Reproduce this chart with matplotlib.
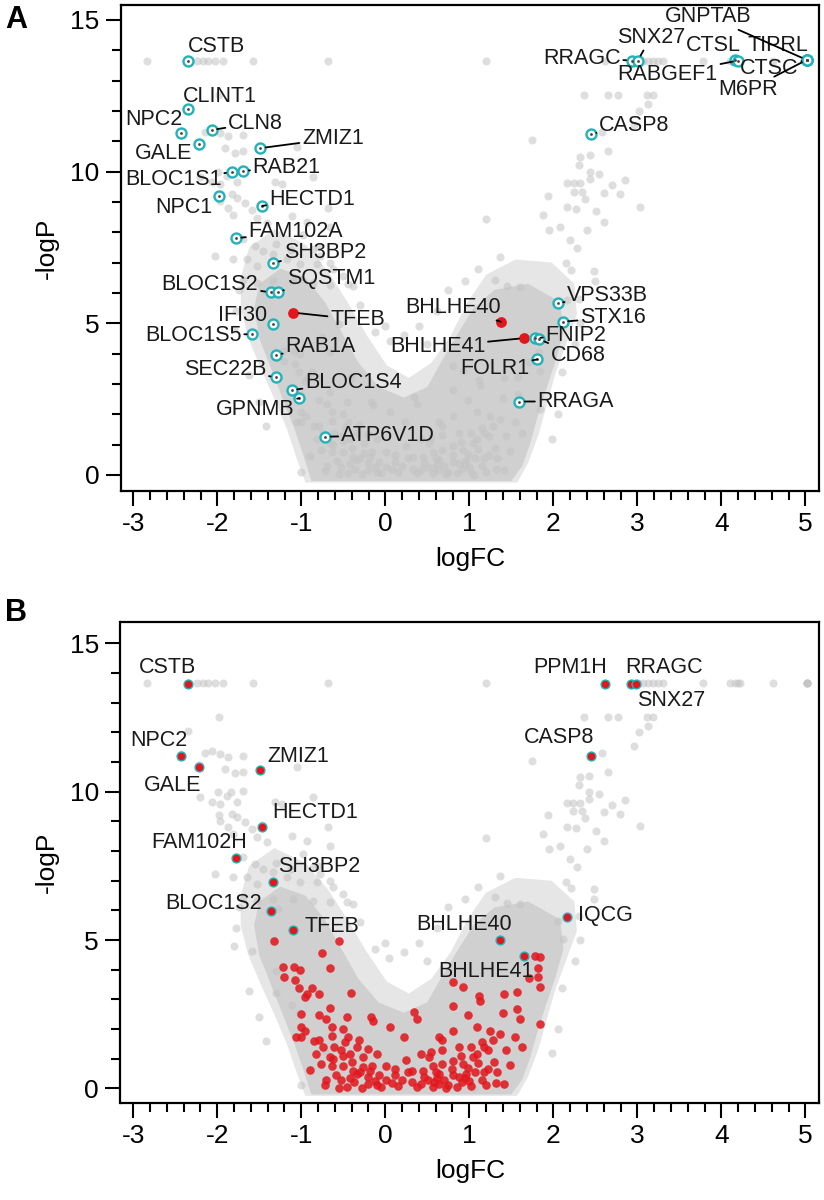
import matplotlib
matplotlib.use("Agg")
import matplotlib.pyplot as plt
from matplotlib.ticker import MultipleLocator

plt.rcParams['font.family'] = ['Liberation Sans', 'DejaVu Sans']

# ---------------- data ----------------
# outline of the light outer haze of the grey gene cloud (logFC / -logP)
halo_x = [-0.95, -1.05, -1.17, -1.32, -1.48, -1.63, -1.72, -1.72, -1.62, -1.32, -0.95, -0.68,
          -0.45, -0.22, 0.02, 0.28, 0.55, 0.78, 0.98, 1.20, 1.55, 1.98, 2.25, 2.28, 2.15,
          2.02, 1.92, 1.82, 1.70, 1.57]
halo_y = [-0.25, 0.50, 1.50, 2.50, 3.50, 4.50, 5.50, 6.50, 7.50, 8.10, 7.60, 6.70,
          5.70, 4.60, 3.60, 3.20, 3.70, 4.60, 5.70, 6.60, 7.10, 7.00, 6.30, 5.30, 4.30,
          3.30, 2.30, 1.30, 0.40, -0.25]
# outline of the solid grey core of the cloud
core_x = [-0.88, -0.97, -1.08, -1.22, -1.36, -1.50, -1.56, -1.50, -1.25, -0.95, -0.72, -0.52,
          -0.32, -0.08, 0.22, 0.50, 0.68, 0.85, 1.05, 1.30, 1.70, 2.08, 2.12, 2.02, 1.90,
          1.80, 1.72, 1.63, 1.50]
core_y = [-0.20, 0.60, 1.50, 2.50, 3.50, 4.50, 5.50, 6.30, 6.80, 6.50, 5.70, 4.70,
          3.70, 2.90, 2.55, 2.90, 3.80, 4.60, 5.50, 6.10, 6.30, 5.70, 4.70, 3.70, 2.70,
          1.80, 1.00, 0.30, -0.20]

# sparse grey genes (all genes not otherwise listed)
bg_x = [-2.84, -2.245, -2.166, -2.106, -2.027, -1.928, -1.571, -0.686, 1.199, 3.07, 3.13,
        3.19, 3.25, 3.31, 3.786, 4.10, 4.22, 4.61,
        -1.975, -2.146, -1.968, -1.868, -1.69, -1.055, -1.908, -1.789, -1.69, -1.987,
        -1.888, -1.769, -2.206, -2.067, -1.968, -1.829, -1.769, -1.67, -0.856, -1.313,
        -1.233, -1.968, -1.868, -1.809, -1.59, -1.531, -1.412, -1.114, -0.936, -0.658,
        -0.678, -2.027, -1.69, -1.551, -1.451, -1.333, -0.856, -0.777, -0.658, -1.809,
        -1.65, -1.531, -1.174, -1.015, -0.817, -0.618, -0.499, -0.38, -1.69, -1.531,
        -1.333, -1.095, -0.856, -0.658,
        2.36, 2.65, 2.77, 3.11, 3.19, 3.13, 3.02, 2.96, 1.75, 2.58, 2.65, 2.32, 2.43,
        2.30, 2.43, 2.54, 2.43, 2.85, 2.70, 2.16, 2.24, 2.32, 2.24, 2.34, 2.60, 2.79,
        1.94, 2.38, 2.16, 2.27, 3.03, 2.51, 1.20, 1.88, 1.95, 2.08, 2.40, 2.60, 2.20,
        2.28, 1.37, 2.15, 2.21, 2.48, 1.31, 1.45, 1.60, 2.49,
        -1.78, -1.80, -1.74, -1.62, -1.50, -1.42, -0.30, -0.12, 0.05, 0.22, 0.40, 0.62,
        0.95, 0.75, 2.30, 2.32, 2.26, 2.05, 1.98, -1.30, -1.12, -0.98, -0.80, -0.45,
        0.00, 0.50, 1.10, 2.10, -1.00, 1.05]
bg_y = [13.66, 13.66, 13.66, 13.66, 13.66, 13.66, 13.66, 13.66, 13.66, 13.66, 13.66,
        13.66, 13.66, 13.66, 13.66, 13.66, 13.66, 13.66,
        12.52, 11.32, 11.27, 11.18, 11.21, 10.82, 10.76, 10.62, 10.68, 9.98,
        9.86, 9.64, 9.81, 9.64, 9.58, 9.25, 9.14, 8.97, 9.81, 9.64,
        9.58, 9.02, 8.80, 8.57, 8.74, 8.46, 8.29, 8.52, 8.35, 8.18,
        8.80, 7.23, 7.79, 7.56, 7.39, 7.28, 7.45, 7.23, 7.00, 7.11,
        7.11, 6.89, 7.11, 6.95, 6.95, 6.78, 6.55, 6.22, 6.44, 6.33,
        6.39, 6.39, 6.33, 6.27,
        12.53, 12.53, 12.53, 12.53, 12.53, 12.22, 12.00, 11.53, 11.04, 11.30, 10.68, 10.49, 10.54,
        10.22, 9.98, 9.93, 9.75, 9.72, 9.56, 9.62, 9.62, 9.62, 9.34, 9.34, 9.30, 9.25,
        9.21, 9.11, 8.82, 8.78, 8.83, 8.69, 8.44, 8.58, 8.07, 8.18, 8.07, 8.33, 7.73,
        7.47, 7.17, 6.97, 6.76, 6.72, 6.44, 6.24, 6.20, 6.39,
        5.40, 4.80, 6.10, 3.30, 2.40, 1.60, 5.60, 4.70, 4.40, 4.60, 4.90, 5.40,
        6.40, 6.10, 5.80, 5.00, 4.30, 2.00, 1.20, 7.60, 7.40, 7.90, 7.50, 6.30,
        4.90, 4.30, 6.80, 3.40, 0.10, 0.00]

# Panel A: highlighted genes
a_genes = ["CSTB", "CLINT1", "NPC2", "CLN8", "GALE", "ZMIZ1", "RAB21", "BLOC1S1", "NPC1",
           "HECTD1", "FAM102A", "SH3BP2", "BLOC1S2", "SQSTM1", "TFEB", "IFI30", "BLOC1S5",
           "RAB1A", "SEC22B", "BLOC1S4", "GPNMB", "ATP6V1D", "BHLHE40", "BHLHE41", "FNIP2",
           "CD68", "FOLR1", "RRAGA", "VPS33B", "STX16", "RRAGC", "SNX27", "CTSL", "RABGEF1",
           "TIPRL", "GNPTAB", "CTSC", "M6PR", "CASP8"]
a_x = [-2.345, -2.345, -2.43, -2.067, -2.218, -1.49, -1.69, -1.83, -1.98,
       -1.464, -1.78, -1.333, -1.365, -1.28, -1.095, -1.333, -1.583,
       -1.30, -1.30, -1.114, -1.024, -0.718, 1.374, 1.655, 1.78,
       1.83, 1.81, 1.595, 2.05, 2.11, 2.933, 3.005, 4.163, 4.20,
       5.016, 5.016, 5.016, 5.016, 2.445]
a_y = [13.66, 12.06, 11.27, 11.37, 10.90, 10.77, 10.02, 9.98, 9.21,
       8.87, 7.80, 7.00, 6.02, 6.04, 5.35, 4.98, 4.64,
       3.96, 3.22, 2.80, 2.53, 1.26, 5.05, 4.51, 4.51,
       4.47, 3.81, 2.42, 5.66, 5.05, 13.66, 13.66, 13.67, 13.66,
       13.68, 13.68, 13.68, 13.68, 11.24]
a_red = ["TFEB", "BHLHE40", "BHLHE41"]

# Panel B: red gene set
b_red_x = [-1.323, -0.553, -0.749, -1.217, -1.084, -1.020, -0.659, -1.206, -1.073, -1.031,
           -0.872, -0.925, -0.951, -0.792, -0.409, -1.004, -0.659, -0.792, -0.457, -0.170,
           0.058, -0.144, -0.632, -0.500, -1.004, -0.792, -0.632, -0.447, -0.314, -0.739,
           -0.606, -0.526, -0.340, -0.207, -0.818, -0.659, -0.500, -0.420, -0.260, -0.101,
           -0.898, -0.765, -0.632, -0.500, -0.393, -0.260, -0.154, 0.005, 0.112, -0.340,
           -0.207, -0.074, 0.112, 0.271, -0.526, -0.367, -0.207, 0.005, 0.324, 0.510,
           0.643, 0.377, 0.563, 0.749, 0.909, 0.340, 0.377, 0.229, 0.430, 0.547,
           0.643, 0.803, 0.670, 0.882, 1.015, 1.095, 1.228, 1.281, 1.360, 1.440,
           1.546, 1.626, 0.803, 0.989, 1.122, 1.095, 1.414, 1.573, 1.573, 1.600,
           1.839, 0.803, 0.920, 1.110, 1.706, 1.823, 1.823, 1.839, 1.786, 1.839,
           0.563, 0.670, 0.803, 0.920, 1.041, 1.148, 1.175, 1.228, 1.334, 1.414,
           0.643, 0.803, 0.962, 1.068, 0.457, 0.324, -1.057, -1.004,
           -0.45, -0.10, 0.15, 0.20, 0.70, 0.85, 1.00, 1.20, -0.30, 0.45, 0.80, 1.10,
           -0.58, -0.05, 0.60, 0.95, 1.30, -0.70, 0.25, 1.15,
           -0.72, -0.55, -0.42, -0.28, -0.12, 0.08, 0.42, 0.58, 0.72, 0.88, 1.02, 1.18,
           1.32, -0.62, -0.48, -0.18, 0.52, 0.68, 0.98, 1.25, -0.85, -0.38, 0.62, 1.48,
           -0.95, -0.70, 0.90, 1.40]
b_red_y = [4.96, 4.96, 4.56, 4.09, 4.09, 4.00, 4.06, 3.77, 3.64, 3.39,
           3.39, 3.19, 3.08, 3.19, 3.21, 2.51, 2.72, 2.46, 2.42, 2.42,
           2.06, 2.29, 2.06, 2.01, 1.73, 1.62, 1.78, 1.73, 1.64, 1.39,
           1.39, 1.28, 1.39, 1.34, 1.17, 1.05, 1.11, 1.17, 1.05, 1.17,
           0.61, 0.83, 0.77, 0.77, 0.89, 0.72, 0.77, 0.77, 0.66, 0.49,
           0.38, 0.44, 0.44, 0.55, 0.27, 0.21, 0.16, 0.27, 0.21, 0.27,
           0.16, 0.05, 0.05, 0.10, 0.21, 2.57, 2.35, 1.75, 1.17, 1.22,
           1.73, 1.95, 1.62, 1.39, 1.39, 1.17, 1.28, 1.62, 1.84, 1.28,
           1.73, 1.39, 2.79, 2.46, 2.96, 2.06, 3.19, 3.24, 2.68, 2.35,
           2.18, 3.58, 3.41, 3.13, 3.71, 4.06, 3.75, 3.43, 4.48, 4.42,
           0.77, 0.83, 0.94, 0.83, 1.05, 1.56, 1.39, 0.66, 0.55, 0.16,
           0.49, 0.44, 0.49, 0.55, 0.38, 0.60, 1.73, 2.06,
           0.05, 0.10, 0.08, 0.30, 0.30, 0.05, 0.25, 0.10, 0.55, 0.60, 0.65, 0.85,
           0.45, 0.05, 0.55, 0.35, 0.90, 0.30, 0.95, 0.30,
           0.12, 0.02, 0.35, 0.02, 0.25, 0.18, 0.15, 0.22, 0.02, 0.38, 0.08, 0.55,
           0.20, 1.00, 1.55, 0.60, 1.05, 1.30, 0.70, 1.95, 1.60, 0.60, 0.35, 0.80,
           1.95, 2.35, 1.10, 2.55]

# Panel B: labelled genes (red with cyan rim)
b_genes = ["CSTB", "NPC2", "GALE", "ZMIZ1", "HECTD1", "FAM102H", "SH3BP2", "BLOC1S2",
           "TFEB", "BHLHE40", "BHLHE41", "IQCG", "PPM1H", "RRAGC", "SNX27", "CASP8"]
b_x = [-2.345, -2.43, -2.218, -1.49, -1.464, -1.78, -1.333, -1.365,
       -1.095, 1.371, 1.652, 2.157, 2.615, 2.925, 2.985, 2.45]
b_y = [13.63, 11.21, 10.85, 10.73, 8.82, 7.77, 6.97, 5.97,
       5.34, 5.00, 4.48, 5.77, 13.63, 13.63, 13.63, 11.21]

# ---------------- layout (label positions, leader flags) ----------------
a_label_pos = {
    "CSTB": (-2.01, 14.12, False), "CLINT1": (-1.968, 12.49, False),
    "NPC2": (-2.751, 11.73, False), "CLN8": (-1.545, 11.60, True),
    "GALE": (-2.643, 10.58, False), "ZMIZ1": (-0.623, 11.09, True),
    "RAB21": (-1.174, 10.15, True), "BLOC1S1": (-2.524, 9.73, True),
    "NPC1": (-2.394, 8.83, False), "HECTD1": (-0.876, 9.09, True),
    "FAM102A": (-1.065, 8.02, True), "SH3BP2": (-0.72, 7.34, True),
    "BLOC1S2": (-2.087, 6.29, True), "SQSTM1": (-0.65, 6.46, True),
    "TFEB": (-0.33, 5.12, True), "IFI30": (-1.696, 5.25, False),
    "BLOC1S5": (-2.286, 4.61, True), "RAB1A": (-0.77, 4.23, True),
    "SEC22B": (-1.908, 3.48, True), "BLOC1S4": (-0.38, 3.05, True),
    "GPNMB": (-1.551, 2.17, True), "ATP6V1D": (0.03, 1.30, True),
    "BHLHE40": (0.80, 5.53, True), "BHLHE41": (0.621, 4.23, True),
    "FNIP2": (2.268, 4.60, True), "CD68": (2.298, 3.94, True),
    "FOLR1": (1.306, 3.52, True), "RRAGA": (2.268, 2.42, True),
    "VPS33B": (2.648, 5.93, True), "STX16": (2.711, 5.19, True),
    "RRAGC": (2.338, 13.74, True), "SNX27": (3.161, 14.43, True),
    "CTSL": (3.905, 14.15, False), "RABGEF1": (3.36, 13.20, True),
    "TIPRL": (4.669, 14.15, False), "GNPTAB": (3.845, 15.11, True),
    "CTSC": (4.570, 13.41, True), "M6PR": (4.321, 12.69, True),
    "CASP8": (2.963, 11.51, True),
}
b_label_pos = {
    "CSTB": (-2.593, 14.19), "NPC2": (-2.69, 11.72), "GALE": (-2.533, 10.21),
    "ZMIZ1": (-1.036, 11.19), "HECTD1": (-0.837, 9.29), "FAM102H": (-2.215, 8.30),
    "SH3BP2": (-0.787, 7.48), "BLOC1S2": (-2.048, 6.22), "TFEB": (-0.633, 5.47),
    "BHLHE40": (0.934, 5.52), "BHLHE41": (1.201, 3.95), "IQCG": (2.615, 5.83),
    "PPM1H": (2.205, 14.17), "RRAGC": (3.32, 14.19), "SNX27": (3.40, 13.07),
    "CASP8": (2.07, 11.83),
}

GREY = "#c3c3c3"
CYAN = "#22b3ba"
RED = "#e3161d"
LBL = 15.5
TICK = 19
AXL = 19

all_x = bg_x + a_x + b_red_x + b_x
all_y = bg_y + a_y + b_red_y + b_y

fig = plt.figure(figsize=(8.24, 12.0), dpi=100)
W, H = 824.0, 1200.0
axA = fig.add_axes([120.7 / W, 1 - 490.7 / H, 698.6 / W, 485.7 / H])
axB = fig.add_axes([120.5 / W, 1 - 1102.7 / H, 698.8 / W, 481.0 / H])


def base(ax, ylim):
    ax.fill(halo_x, halo_y, color="#e6e6e6", lw=0, zorder=1)
    ax.fill(core_x, core_y, color="#d0d0d0", lw=0, zorder=1.5)
    ax.scatter(all_x, all_y, s=34, color=GREY, alpha=0.55, lw=0, zorder=2)
    ax.set_xlim(-3.15, 5.165)
    ax.set_ylim(*ylim)
    ax.xaxis.set_major_locator(MultipleLocator(1))
    ax.xaxis.set_minor_locator(MultipleLocator(0.2))
    ax.yaxis.set_major_locator(MultipleLocator(5))
    ax.yaxis.set_minor_locator(MultipleLocator(1))
    ax.tick_params(which="major", length=10.5, width=1.5, labelsize=TICK, pad=5)
    ax.tick_params(which="minor", length=6.5, width=1.5)
    for sp in ax.spines.values():
        sp.set_linewidth(1.6)
    ax.set_xticks(range(-3, 6))
    ax.set_xticklabels([str(v) for v in range(-3, 6)])
    ax.set_xlabel("logFC", fontsize=AXL, labelpad=8)
    ax.set_ylabel("-logP", fontsize=AXL, labelpad=8)


base(axA, (-0.52, 15.49))
base(axB, (-0.48, 15.73))

# ---- panel A highlights ----
for g, x, y in zip(a_genes, a_x, a_y):
    if g in a_red:
        axA.scatter([x], [y], s=60, color=RED, lw=0, zorder=4)
    else:
        axA.scatter([x], [y], s=52, facecolors="white", edgecolors=CYAN, lw=1.7, zorder=4)
        axA.scatter([x], [y], s=4, color="#444444", lw=0, zorder=5)
    tx, ty, lead = a_label_pos[g]
    kw = dict(arrowprops=dict(arrowstyle="-", lw=1.3, color="black",
                              shrinkA=0, shrinkB=4)) if lead else {}
    axA.annotate(g, xy=(x, y), xytext=(tx, ty), ha="center", va="center",
                 fontsize=LBL, color="#1a1a1a", zorder=6, **kw)

# ---- panel B highlights ----
axB.scatter(b_red_x, b_red_y, s=38, color=RED, alpha=0.85, lw=0, zorder=4)
for g, x, y in zip(b_genes, b_x, b_y):
    axB.scatter([x], [y], s=40, color=RED, edgecolors=CYAN, lw=1.0, zorder=5)
    tx, ty = b_label_pos[g]
    axB.text(tx, ty, g, ha="center", va="center", fontsize=LBL, color="#1a1a1a", zorder=6)

fig.text(5 / W, 1 - 20 / H, "A", fontsize=22, fontweight="bold", va="center", ha="left")
fig.text(5 / W, 1 - 613 / H, "B", fontsize=22, fontweight="bold", va="center", ha="left")

fig.savefig("out.png", dpi=100)
